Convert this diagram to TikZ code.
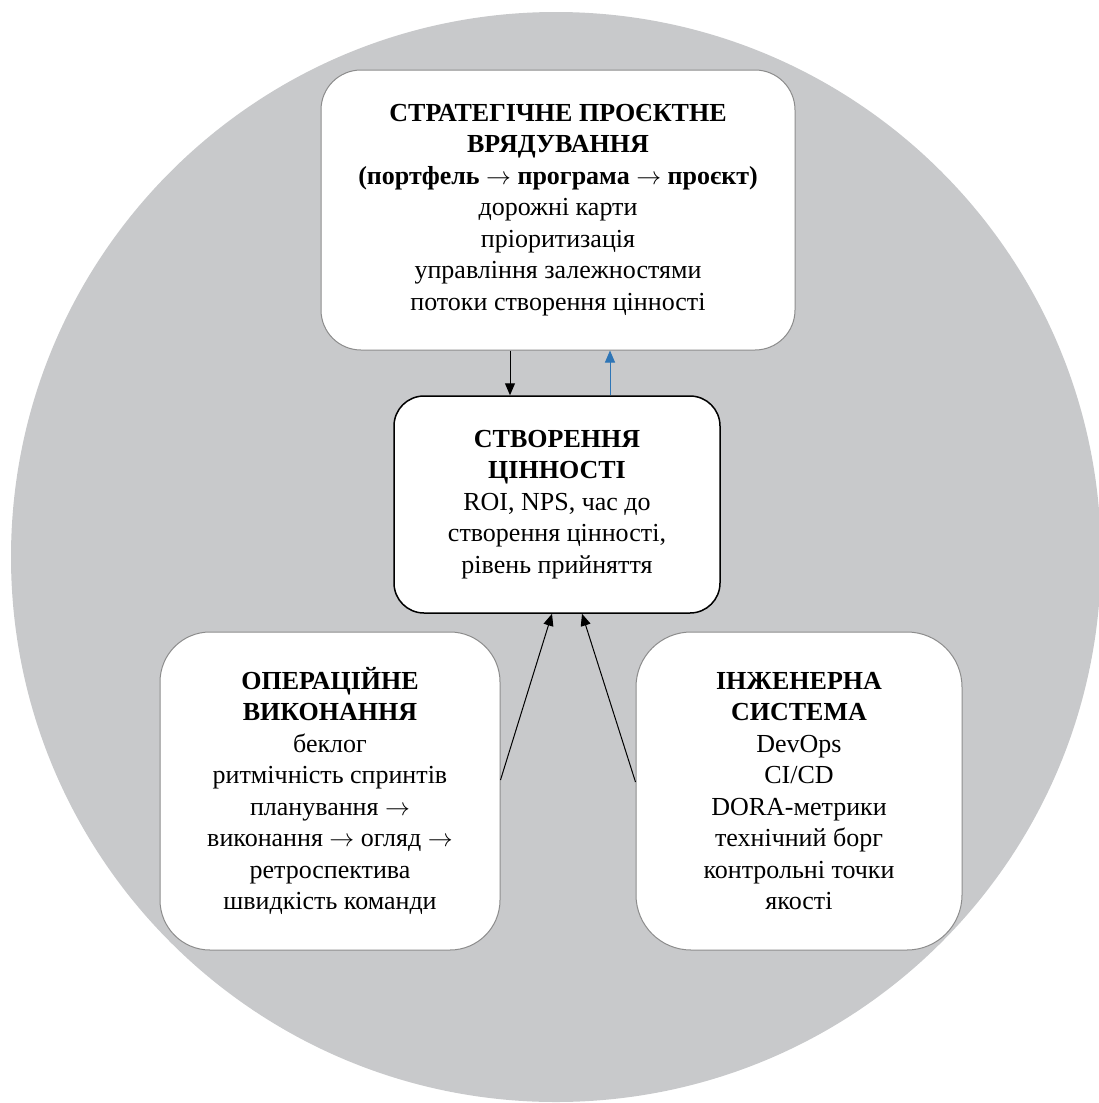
\documentclass[tikz,border=0pt]{standalone}
\usepackage{fontspec}
\setmainfont{Liberation Serif}
\usepackage{tikz}
\usetikzlibrary{arrows.meta, positioning}
\definecolor{ringgrey}{HTML}{C8C9CB}
\definecolor{edgegrey}{HTML}{8C8C8C}
\definecolor{upblue}{HTML}{2E75B6}
\newcommand{\ra}{$\rightarrow$}

\begin{document}
\begin{tikzpicture}[x=1pt, y=-1pt,
  txt/.style={font=\fontsize{26}{31.5}\selectfont, align=center, inner sep=0pt},
  box/.style={txt, draw=edgegrey, line width=1pt, fill=white},
  midbox/.style={txt, draw=black, line width=1.5pt, fill=white, rounded corners=30pt},
  arr/.style={-{Triangle[length=12pt,width=10pt]}, line width=1pt}]

\useasboundingbox (0,0) rectangle (1099,1103);
\fill[ringgrey] (556,557) circle[radius=545pt];

% boxes
\node[box, rounded corners=40pt, minimum width=474pt, minimum height=280pt] (strat) at (558,210)
  {\textbf{СТРАТЕГІЧНЕ ПРОЄКТНЕ}\\ \textbf{ВРЯДУВАННЯ}\\ \textbf{(портфель \ra{} програма \ra{} проєкт)}\\
   дорожні карти\\ пріоритизація\\ управління залежностями\\ потоки створення цінності};
\node[midbox, minimum width=326pt, minimum height=217pt] (value) at (557,504.5)
  {\textbf{СТВОРЕННЯ}\\ \textbf{ЦІННОСТІ}\\ ROI, NPS, час до\\ створення цінності,\\ рівень прийняття};
\node[box, rounded corners=50pt, minimum width=340pt, minimum height=318pt] (ops) at (330,791)
  {\textbf{ОПЕРАЦІЙНЕ}\\ \textbf{ВИКОНАННЯ}\\ беклог\\ ритмічність спринтів\\ планування \ra\\
   виконання \ra{} огляд \ra\\ ретроспектива\\ швидкість команди};
\node[box, rounded corners=55pt, minimum width=326pt, minimum height=318pt] (eng) at (799,791)
  {\textbf{ІНЖЕНЕРНА}\\ \textbf{СИСТЕМА}\\ DevOps\\ CI/CD\\ DORA-метрики\\ технічний борг\\
   контрольні точки\\ якості};

% connectors
\draw[arr] ([xshift=-48pt]strat.south) -- ([xshift=-47pt]value.north);
\draw[arr, upblue] ([xshift=53pt]value.north) -- ([xshift=52pt]strat.south);
\draw[arr] ([yshift=11pt]ops.east) -- ([xshift=-5pt]value.south);
\draw[arr] ([yshift=9pt]eng.west) -- ([xshift=25pt]value.south);

\end{tikzpicture}
\end{document}
